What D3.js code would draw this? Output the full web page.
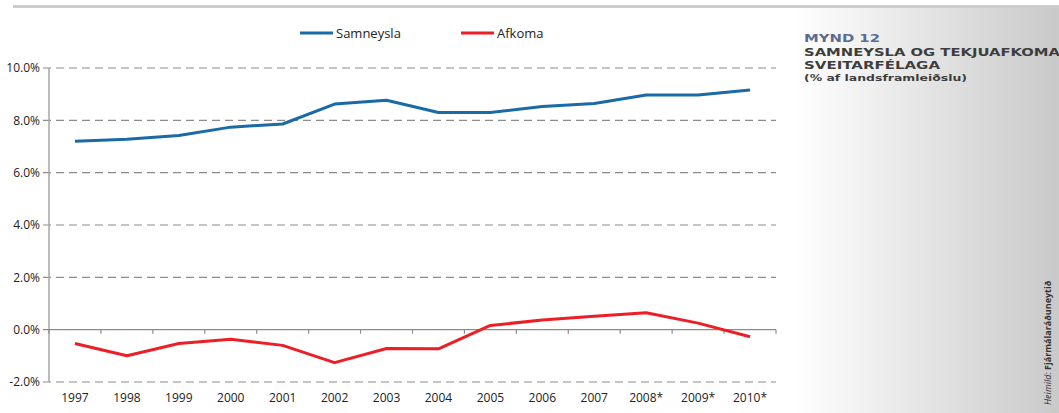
<!DOCTYPE html>
<style>
body { margin: 0; background-color: #FFFFFF; }
text { font-family: "Open Sans", "Noto Sans", sans-serif; }
</style>
<svg width="1059" height="413"></svg>
<script src="https://d3js.org/d3.v7.min.js"></script>
<script>

var years = ["1997","1998","1999","2000","2001","2002","2003","2004","2005","2006","2007","2008*","2009*","2010*"];
var samneysla = [7.20, 7.28, 7.42, 7.74, 7.86, 8.62, 8.77, 8.30, 8.30, 8.53, 8.64, 8.97, 8.97, 9.16];
var afkoma = [-0.53, -1.00, -0.53, -0.37, -0.60, -1.26, -0.72, -0.73, 0.16, 0.37, 0.51, 0.65, 0.25, -0.27];
var yTicks = [-2, 0, 2, 4, 6, 8, 10];
var seriesNames = ["Samneysla", "Afkoma"];
var colors = ["#1a6aa8", "#ec1f27"];

var svg = d3.select("svg");

// gray panel on the right
var defs = svg.append("defs");
var grad = defs.append("linearGradient").attr("id", "side").attr("x1", 0).attr("x2", 1).attr("y1", 0).attr("y2", 0);
grad.append("stop").attr("offset", "0%").attr("stop-color", "#ffffff");
grad.append("stop").attr("offset", "100%").attr("stop-color", "#c9c9c9");
svg.append("rect").attr("x", 795).attr("y", 7).attr("width", 264).attr("height", 406).attr("fill", "url(#side)");

// top bar
svg.append("rect").attr("x", 13).attr("y", 5).attr("width", 1046).attr("height", 3).attr("fill", "#cccccc");

var x = d3.scaleBand().domain(years).range([49, 776]);
var y = d3.scaleLinear().domain([-2, 10]).range([382, 68]);

var g = svg.append("g");

// grid
g.selectAll(".grid").data(yTicks.filter(function(d) { return d !== 0; }))
  .enter().append("line")
    .attr("x1", 43).attr("x2", 776)
    .attr("y1", function(d) { return y(d); }).attr("y2", function(d) { return y(d); })
    .attr("stroke", "#8c8c8c").attr("stroke-width", 1.2)
    .attr("stroke-dasharray", "8,5");

// y axis
g.append("line").attr("x1", 49).attr("x2", 49).attr("y1", y(10)).attr("y2", y(-2))
  .attr("stroke", "#a6a6a6").attr("stroke-width", 1.5);
g.selectAll(".ylab").data(yTicks).enter().append("text")
  .attr("x", 40).attr("y", function(d) { return y(d); }).attr("dy", "0.35em")
  .attr("text-anchor", "end").attr("font-size", 12).attr("fill", "#222")
  .text(function(d) { return d.toFixed(1) + "%"; });

// x axis at 0
g.append("line").attr("x1", 43).attr("x2", 776).attr("y1", y(0)).attr("y2", y(0))
  .attr("stroke", "#8c8c8c").attr("stroke-width", 1.2);
var bounds = years.map(function(d) { return x(d); }).concat([x.range()[1]]);
g.selectAll(".xtick").data(bounds).enter().append("line")
  .attr("x1", function(d) { return d; }).attr("x2", function(d) { return d; })
  .attr("y1", y(0)).attr("y2", y(0) + 4)
  .attr("stroke", "#8c8c8c").attr("stroke-width", 1.2);
g.selectAll(".xlab").data(years).enter().append("text")
  .attr("x", function(d) { return x(d) + x.bandwidth() / 2; }).attr("y", 402)
  .attr("text-anchor", "middle").attr("font-size", 12).attr("fill", "#222")
  .text(function(d) { return d; });

// lines
var line = d3.line()
  .x(function(d, i) { return x(years[i]) + x.bandwidth() / 2; })
  .y(function(d) { return y(d); });
[samneysla, afkoma].forEach(function(s, k) {
  g.append("path").datum(s).attr("d", line)
    .attr("fill", "none").attr("stroke", colors[k]).attr("stroke-width", 3)
    .attr("stroke-linejoin", "round");
});

// legend
var legX = [300, 461];
seriesNames.forEach(function(n, k) {
  svg.append("line").attr("x1", legX[k]).attr("x2", legX[k] + 33).attr("y1", 33).attr("y2", 33)
    .attr("stroke", colors[k]).attr("stroke-width", 3);
  svg.append("text").attr("x", legX[k] + 36).attr("y", 33).attr("dy", "0.35em")
    .attr("font-size", 13).attr("fill", "#222").text(n);
});

// title block
var tf = "'DejaVu Sans', sans-serif";
function title(txt, yy, size, len, col) {
  svg.append("text").attr("x", 804).attr("y", yy).style("font-family", tf).attr("font-weight", "bold")
    .attr("font-size", size).attr("fill", col).attr("textLength", len)
    .attr("lengthAdjust", "spacingAndGlyphs").text(txt);
}
title("MYND 12", 42, 11, 76, "#5b6c93");
title("SAMNEYSLA OG TEKJUAFKOMA", 56, 11, 256, "#3d3d3d");
title("SVEITARFÉLAGA", 69, 11, 136, "#3d3d3d");
title("(% af landsframleiðslu)", 81, 9.5, 163, "#3d3d3d");

// source
var src = svg.append("text").attr("transform", "translate(1051,405) rotate(-90)")
  .attr("font-size", 9).attr("fill", "#333");
src.append("tspan").attr("font-style", "italic").text("Heimild: ");
src.append("tspan").attr("font-weight", "bold").text("Fjármálaráðuneytið");

</script>
